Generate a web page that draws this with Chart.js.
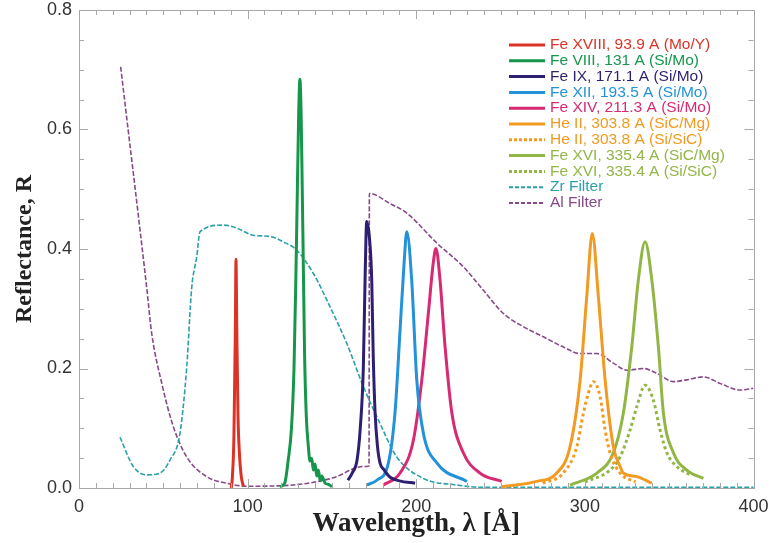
<!DOCTYPE html>
<html>
<head>
<meta charset="utf-8">
<script src="https://cdn.jsdelivr.net/npm/chart.js@4.4.1/dist/chart.umd.min.js"></script>
<style>
    html, body { margin: 0; padding: 0; background: #fff; }
    #wrap { width: 770px; height: 543px; }
</style>
</head>
<body>
<div id="wrap"><canvas id="reflChart"></canvas></div>
<script>
// wavelength [A] and reflectance
const feXVIIIWave = [90.3, 91.0, 91.9, 92.7, 93.1, 93.6, 94.3, 95.1, 96.2, 97.5];
const feXVIIIRefl = [0.0, 0.02, 0.09, 0.26, 0.383, 0.26, 0.12, 0.06, 0.02, 0.003];

const feVIIIWave = [119.2, 122.0, 124.0, 126.0, 127.5, 128.6, 129.5, 130.3, 131.0, 131.7, 132.4, 133.0, 133.8, 134.8, 136.0, 137.0, 138.0, 139.0, 140.0, 141.0, 142.0, 143.0, 144.0, 146.0, 148.0, 150.0];
const feVIIIRefl = [0.002, 0.008, 0.045, 0.1, 0.2, 0.35, 0.5, 0.63, 0.684, 0.63, 0.5, 0.38, 0.22, 0.12, 0.07, 0.045, 0.05, 0.03, 0.04, 0.02, 0.03, 0.012, 0.02, 0.008, 0.006, 0.002];

const feIXWave = [159.5, 162.0, 164.9, 166.8, 168.6, 169.8, 170.6, 172.2, 173.6, 174.5, 175.6, 177.0, 178.5, 181.0, 184.5, 190.0, 199.3];
const feIXRefl = [0.013, 0.025, 0.047, 0.1, 0.2, 0.37, 0.446, 0.42, 0.348, 0.22, 0.126, 0.07, 0.042, 0.03, 0.018, 0.012, 0.008];

const feXIIWave = [170.6, 176.6, 183.5, 187.4, 190.4, 192.8, 194.4, 197.3, 200.3, 204.2, 212.2, 230.0];
const feXIIRefl = [0.005, 0.013, 0.042, 0.126, 0.264, 0.377, 0.429, 0.348, 0.181, 0.092, 0.042, 0.011];

const feXIVWave = [180.5, 190.4, 198.3, 203.3, 207.2, 210.1, 211.7, 214.1, 217.1, 221.1, 227.9, 237.8, 250.7];
const feXIVRefl = [0.005, 0.025, 0.08, 0.181, 0.293, 0.377, 0.401, 0.348, 0.236, 0.126, 0.059, 0.025, 0.011];

const heIIMgWave = [250.7, 271.5, 283.3, 291.2, 297.2, 301.1, 304.4, 308.0, 312.0, 316.9, 320.9, 322.8, 330.8, 339.7];
const heIIMgRefl = [0.002, 0.011, 0.025, 0.069, 0.181, 0.32, 0.426, 0.32, 0.181, 0.069, 0.036, 0.025, 0.019, 0.008];

const heIISicWave = [275.0, 287.2, 295.2, 299.1, 302.1, 305.0, 309.0, 312.0, 314.9, 320.9, 330.0];
const heIISicRefl = [0.008, 0.025, 0.069, 0.125, 0.159, 0.178, 0.153, 0.097, 0.059, 0.025, 0.01];

const feXVIMgWave = [291.2, 307.1, 316.9, 322.8, 327.8, 331.7, 335.7, 339.7, 343.6, 346.6, 352.5, 360.4, 370.3];
const feXVIMgRefl = [0.005, 0.025, 0.059, 0.125, 0.236, 0.348, 0.412, 0.348, 0.236, 0.125, 0.059, 0.03, 0.016];

const feXVISicWave = [300.0, 314.9, 320.9, 326.8, 330.8, 335.7, 340.6, 344.6, 348.6, 354.5, 362.4];
const feXVISicRefl = [0.01, 0.03, 0.052, 0.097, 0.136, 0.172, 0.147, 0.097, 0.059, 0.036, 0.022];

const zrWave = [24.3, 32.2, 40.2, 48.0, 54.0, 59.9, 63.9, 66.8, 69.8, 71.8, 85.6, 93.5, 103.4, 113.3, 121.2, 129.1, 139.0, 148.9, 158.8, 168.6, 178.5, 188.4, 204.2, 224.0, 240.0, 400.0];
const zrRefl = [0.085, 0.036, 0.022, 0.025, 0.047, 0.092, 0.203, 0.334, 0.387, 0.429, 0.44, 0.435, 0.423, 0.421, 0.412, 0.398, 0.359, 0.303, 0.242, 0.17, 0.108, 0.052, 0.016, 0.005, 0.001, 0.001];

const alWave = [24.7, 40.2, 43.1, 49.1, 55.9, 63.9, 75.7, 87.6, 99.5, 126.9, 150.6, 168.6, 172.0, 172.2, 184.5, 194.4, 212.2, 228.0, 239.8, 251.7, 263.5, 275.4, 287.2, 297.2, 307.1, 316.9, 324.9, 334.7, 342.6, 352.5, 360.4, 370.3, 380.2, 392.1, 399.8];
const alRefl = [0.705, 0.334, 0.259, 0.175, 0.103, 0.052, 0.019, 0.008, 0.003, 0.005, 0.017, 0.036, 0.037, 0.493, 0.476, 0.46, 0.41, 0.37, 0.331, 0.292, 0.27, 0.253, 0.236, 0.225, 0.225, 0.209, 0.197, 0.2, 0.192, 0.178, 0.181, 0.186, 0.175, 0.164, 0.167];

const xTickLabels = ['0', '100', '200', '300', '400'];
const yTickLabels = ['0.0', '0.2', '0.4', '0.6', '0.8'];

function toPoints(wave, refl) {
    return wave.map((w, i) => ({ x: w, y: refl[i] }));
}

function peak(label, color, wave, refl, dash) {
    return {
        label: label,
        data: toPoints(wave, refl),
        borderColor: color,
        borderWidth: 3,
        borderDash: dash || [],
        pointRadius: 0,
        cubicInterpolationMode: 'monotone',
        clip: 4
    };
}

function filter(label, color, wave, refl) {
    return {
        label: label,
        data: toPoints(wave, refl),
        borderColor: color,
        borderWidth: 1.6,
        borderDash: [5, 2],
        pointRadius: 0,
        cubicInterpolationMode: 'monotone',
        clip: 4
    };
}

// legend sits inside the plot, top right, text coloured like the line
const insideLegend = {
    id: 'insideLegend',
    afterDatasetsDraw(chart) {
        const ctx = chart.ctx;
        ctx.save();
        ctx.font = '15.5px "Liberation Sans", Arial, sans-serif';
        ctx.textBaseline = 'middle';
        chart.data.datasets.forEach((ds, i) => {
            const y = 45 + i * 15.8;
            ctx.strokeStyle = ds.borderColor;
            ctx.lineWidth = ds.borderWidth > 2 ? 3 : 2;
            ctx.setLineDash(ds.borderDash.length ? (ds.borderWidth > 2 ? [3, 2] : [4, 2]) : []);
            ctx.beginPath();
            ctx.moveTo(509, y);
            ctx.lineTo(545, y);
            ctx.stroke();
            ctx.fillStyle = ds.borderColor;
            ctx.fillText(ds.label, 550, y);
        });
        ctx.restore();
    }
};

// IDL style box with inward ticks on all four sides
const frameTicks = {
    id: 'frameTicks',
    afterDraw(chart) {
        const { ctx, chartArea: a, scales: { x, y } } = chart;
        ctx.save();
        ctx.strokeStyle = '#a8a8a8';
        ctx.lineWidth = 1;
        ctx.strokeRect(Math.round(a.left) + 0.5, Math.round(a.top) + 0.5, Math.round(a.right - a.left), Math.round(a.bottom - a.top));
        ctx.beginPath();
        for (let v = 0; v <= 400; v += 10) {
            const px = Math.round(x.getPixelForValue(v)) + 0.5;
            const len = v % 100 === 0 ? 9 : 5;
            ctx.moveTo(px, a.bottom);
            ctx.lineTo(px, a.bottom - len);
            ctx.moveTo(px, a.top);
            ctx.lineTo(px, a.top + len);
        }
        for (let k = 0; k <= 16; k++) {
            const py = Math.round(y.getPixelForValue(k * 0.05)) + 0.5;
            const len = k % 4 === 0 ? 9 : 5;
            ctx.moveTo(a.left, py);
            ctx.lineTo(a.left + len, py);
            ctx.moveTo(a.right, py);
            ctx.lineTo(a.right - len, py);
        }
        ctx.stroke();
        ctx.restore();
    }
};

function initializeChart() {
    const ctx = document.getElementById('reflChart').getContext('2d');
    new Chart(ctx, {
        type: 'line',
        data: {
            datasets: [
                peak('Fe XVIII, 93.9 A (Mo/Y)', '#dc3326', feXVIIIWave, feXVIIIRefl),
                peak('Fe VIII, 131 A (Si/Mo)', '#15964b', feVIIIWave, feVIIIRefl),
                peak('Fe IX, 171.1 A (Si/Mo)', '#2e1f72', feIXWave, feIXRefl),
                peak('Fe XII, 193.5 A (Si/Mo)', '#2392d8', feXIIWave, feXIIRefl),
                peak('Fe XIV, 211.3 A (Si/Mo)', '#d82a72', feXIVWave, feXIVRefl),
                peak('He II, 303.8 A (SiC/Mg)', '#f29a22', heIIMgWave, heIIMgRefl),
                peak('He II, 303.8 A (Si/SiC)', '#f29a22', heIISicWave, heIISicRefl, [3, 3]),
                peak('Fe XVI, 335.4 A (SiC/Mg)', '#92b646', feXVIMgWave, feXVIMgRefl),
                peak('Fe XVI, 335.4 A (Si/SiC)', '#92b646', feXVISicWave, feXVISicRefl, [3, 3]),
                filter('Zr Filter', '#2ba0aa', zrWave, zrRefl),
                filter('Al Filter', '#87498a', alWave, alRefl)
            ]
        },
        options: {
            responsive: true,
            maintainAspectRatio: false,
            animation: false,
            layout: { padding: { top: 10, right: 16.5, left: 0, bottom: 0 } },
            plugins: {
                legend: { display: false },
                tooltip: { enabled: false }
            },
            scales: {
                x: {
                    type: 'linear',
                    min: 0,
                    max: 400,
                    grid: { display: false, drawTicks: false },
                    border: { display: false },
                    ticks: {
                        stepSize: 100,
                        padding: 8,
                        maxRotation: 0,
                        color: '#333',
                        font: { family: '"Liberation Sans", Arial, sans-serif', size: 18 },
                        callback: (v) => xTickLabels[xTickLabels.indexOf(String(v))] ?? ''
                    },
                    title: {
                        display: true,
                        text: 'Wavelength, λ [Å]',
                        color: '#222',
                        font: { family: '"Liberation Serif", "Times New Roman", serif', size: 27, weight: 'bold' },
                        padding: { top: 0, bottom: 3 }
                    },
                    afterFit: (scale) => {
                        scale.height = 55;
                        scale.paddingLeft = 0;
                        scale.paddingRight = 0;
                    }
                },
                y: {
                    min: 0,
                    max: 0.8,
                    grid: { display: false, drawTicks: false },
                    border: { display: false },
                    ticks: {
                        stepSize: 0.2,
                        padding: 7,
                        color: '#333',
                        font: { family: '"Liberation Sans", Arial, sans-serif', size: 18 },
                        callback: (v) => yTickLabels[Math.round(v / 0.2)]
                    },
                    title: {
                        display: true,
                        text: 'Reflectance, R',
                        color: '#222',
                        font: { family: '"Liberation Serif", "Times New Roman", serif', size: 24, weight: 'bold' },
                        padding: { top: 10, bottom: 0 }
                    },
                    afterFit: (scale) => {
                        scale.width = 79;
                        scale.paddingTop = 0;
                        scale.paddingBottom = 0;
                    }
                }
            }
        },
        plugins: [insideLegend, frameTicks]
    });
}

document.addEventListener('DOMContentLoaded', () => {
    initializeChart();
});
</script>
</body>
</html>
